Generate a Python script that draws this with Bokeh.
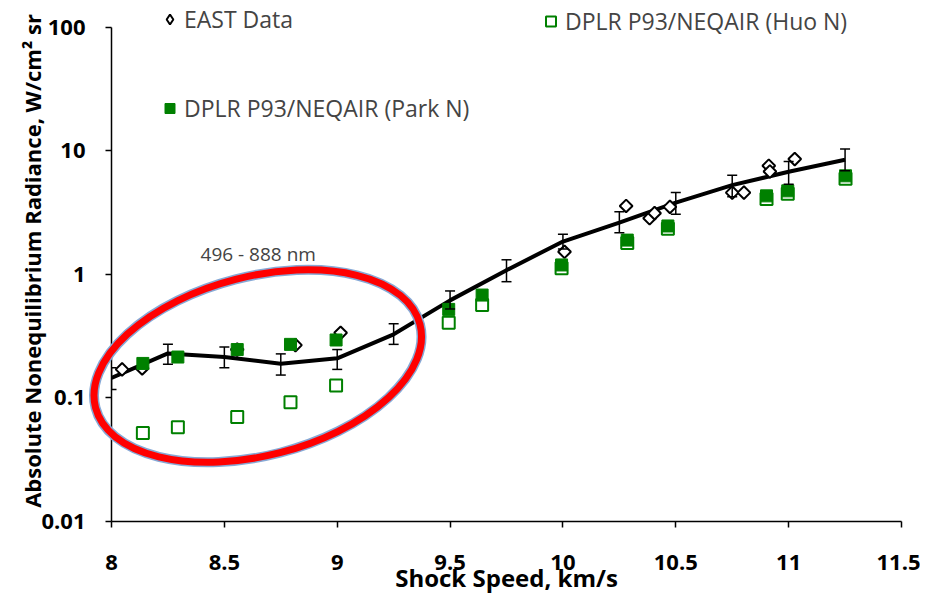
from bokeh.plotting import figure
from bokeh.models import (ColumnDataSource, Whisker, TeeHead, Legend, LegendItem,
                          Label, Range1d, FixedTicker, NumeralTickFormatter)
from bokeh.embed import file_html
from bokeh.resources import INLINE
import math

# --- Daten ---
# EAST Kurvenfit mit Fehlerbalken
fit_speed = [8.0, 8.25, 8.5, 8.75, 9.0, 9.25, 9.5, 9.75, 10.0, 10.25, 10.5, 10.75, 11.0, 11.25]
fit_rad   = [0.145, 0.229, 0.214, 0.189, 0.209, 0.327, 0.615, 1.08, 1.84, 2.62, 3.80, 5.26, 6.75, 8.44]
fit_upper = [0.175, 0.271, 0.258, 0.227, 0.246, 0.398, 0.733, 1.31, 2.11, 3.21, 4.58, 6.34, 8.17, 10.3]
fit_lower = [0.117, 0.187, 0.175, 0.153, 0.170, 0.271, 0.524, 0.871, 1.60, 2.17, 3.06, 4.23, 5.36, 6.87]

# EAST Messpunkte
east_speed = [8.047, 8.136, 8.557, 8.815, 9.015, 10.007, 10.28, 10.384, 10.406, 10.474,
              10.75, 10.802, 10.912, 10.917, 11.027]
east_rad   = [0.170, 0.173, 0.246, 0.267, 0.336, 1.52, 3.57, 2.84, 3.12, 3.51,
              4.58, 4.58, 7.55, 6.78, 8.55]

# DPLR P93/NEQAIR
dplr_speed = [8.139, 8.294, 8.557, 8.793, 8.995, 9.494, 9.642, 9.994, 10.285, 10.465,
              10.902, 10.996, 11.252]
park_rad   = [0.190, 0.214, 0.246, 0.271, 0.294, 0.520, 0.679, 1.19, 1.89, 2.46,
              4.31, 4.73, 6.26]
huo_rad    = [0.0520, 0.0579, 0.0702, 0.0923, 0.126, 0.405, 0.563, 1.12, 1.79, 2.33,
              4.07, 4.48, 5.92]

x_ticks = [8, 8.5, 9, 9.5, 10, 10.5, 11, 11.5]
y_ticks = [0.01, 0.1, 1, 10, 100]

# Markierung (Ellipse + Text)
mark_x, mark_y = 8.648, 0.181
mark_text = "496 - 888 nm"
text_x, text_y = 8.65, 1.46

FONT = "Open Sans"

p = figure(width=920, height=597, y_axis_type="log",
           x_range=Range1d(8, 11.5), y_range=Range1d(0.01, 164),
           output_backend="svg", toolbar_location=None,
           min_border_left=111, min_border_right=19, min_border_top=0, min_border_bottom=76)
p.outline_line_color = None
p.xgrid.visible = False
p.ygrid.visible = False

# Kurvenfit + Fehlerbalken
fit_src = ColumnDataSource(dict(x=fit_speed, y=fit_rad, upper=fit_upper, lower=fit_lower))
p.line('x', 'y', source=fit_src, line_color="black", line_width=4)
p.add_layout(Whisker(source=fit_src, base='x', upper='upper', lower='lower',
                     line_color="black", line_width=1.5, level="glyph",
                     upper_head=TeeHead(size=10, line_color="black", line_width=1.5),
                     lower_head=TeeHead(size=10, line_color="black", line_width=1.5)))

# Punkte
r_east = p.scatter(east_speed, east_rad, marker="square", angle=math.pi / 4, size=9,
                   fill_color="white", line_color="black", line_width=2)
r_huo = p.scatter(dplr_speed, huo_rad, marker="square", size=12,
                  fill_color="white", line_color="#008000", line_width=2)
r_park = p.scatter(dplr_speed, park_rad, marker="square", size=12,
                   fill_color="#008000", line_color="#008000", line_width=1)
# Legenden-Symbol für EAST (Raute), selbst nicht im Diagramm sichtbar
r_east_key = p.scatter(x=[float("nan")], y=[float("nan")], marker="diamond",
                       fill_color="white", line_color="black", line_width=2)

# Ellipse (rot mit blauem Rand), nicht auf den Rahmen beschnitten
p.ellipse(x=[mark_x], y=[mark_y], width=335, height=179, angle=math.radians(14.4),
          width_units="screen", height_units="screen", level="annotation",
          fill_color=None, line_color="#86a9d6", line_width=10)
p.ellipse(x=[mark_x], y=[mark_y], width=335, height=179, angle=math.radians(14.4),
          width_units="screen", height_units="screen", level="annotation",
          fill_color=None, line_color="#ff0000", line_width=7)

p.add_layout(Label(x=text_x, y=text_y, text=mark_text, text_align="center",
                   text_baseline="middle", text_font=FONT, text_font_size="19px"))

# Achsen
p.xaxis.ticker = FixedTicker(ticks=x_ticks)
p.xaxis.formatter = NumeralTickFormatter(format="0.[0]")
p.yaxis.ticker = FixedTicker(ticks=y_ticks)
p.yaxis.formatter = NumeralTickFormatter(format="0.[00]")
p.yaxis.bounds = (0.01, 100)
for ax in (p.xaxis, p.yaxis):
    ax.axis_line_width = 1.5
    ax.axis_line_color = "black"
    ax.major_tick_line_color = "black"
    ax.major_tick_line_width = 1.5
    ax.major_tick_in = 0
    ax.major_tick_out = 6
    ax.minor_tick_line_color = None
    ax.major_label_text_font = FONT
    ax.major_label_text_font_style = "bold"
    ax.major_label_text_font_size = "22px"
    ax.major_label_text_color = "black"
    ax.axis_label_text_font = FONT
    ax.axis_label_text_font_style = "bold"
    ax.axis_label_text_color = "black"
p.xaxis.major_label_standoff = 27
p.xaxis.axis_label = "Shock Speed, km/s"
p.xaxis.axis_label_text_font_size = "24px"
p.xaxis.axis_label_standoff = -12
p.yaxis.major_label_standoff = 20
p.yaxis.axis_label = "Absolute Nonequilibrium Radiance, W/cm\u00b2 sr"
p.yaxis.axis_label_text_font_size = "22px"
p.yaxis.axis_label_standoff = -9

# Legende
def make_legend(items, loc):
    lg = Legend(items=items, location=loc, padding=0, margin=0,
                glyph_width=25, glyph_height=30, label_height=30, spacing=57,
                label_standoff=2, label_text_font=FONT, label_text_font_size="23px",
                background_fill_alpha=0, border_line_alpha=0)
    p.add_layout(lg)

make_legend([LegendItem(label="EAST Data", renderers=[r_east_key]),
             LegendItem(label="DPLR P93/NEQAIR (Park N)", renderers=[r_park])], (46, 397))
make_legend([LegendItem(label="DPLR P93/NEQAIR (Huo N)", renderers=[r_huo])], (427, 484))

open("out.html", "w").write(file_html(p, INLINE))
